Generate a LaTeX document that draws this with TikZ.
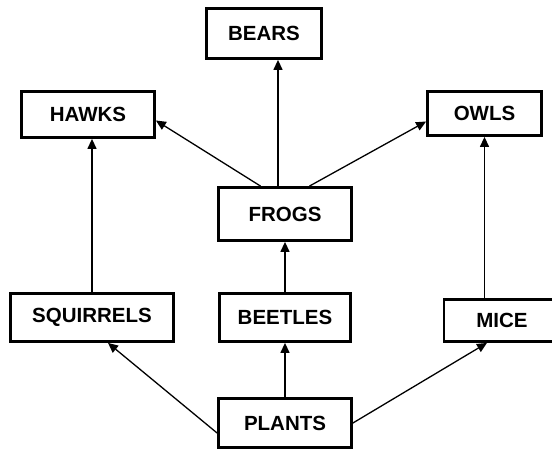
\documentclass[tikz,border=0pt]{standalone}
\usepackage{fontspec}
\setmainfont{Liberation Sans}
\usepackage{tikz}
\usetikzlibrary{arrows.meta,calc}

\begin{document}
\begin{tikzpicture}[
  x=1pt,
  y=-1pt,
  font=\fontsize{20.5}{24}\selectfont\bfseries,
  >={Triangle[length=10pt,width=9pt]},
  eats/.style={->, line width=1.3pt, draw=black},
  animal/.style={draw=black, line width=2.8pt, fill=white, align=center,
    inner sep=0pt}
]
\useasboundingbox (0,0) rectangle (552,450);

\node[animal, minimum width=115, minimum height=50] (bears) at (264,33.5) {BEARS};
\node[animal, minimum width=133, minimum height=46] (hawks) at (88,114.5) {HAWKS};
\node[animal, minimum width=114, minimum height=44] (owls) at (484.5,113.5) {OWLS};
\node[animal, minimum width=133, minimum height=53] (frogs) at (285,214) {FROGS};
\node[animal, minimum width=163, minimum height=48] (squirrels) at (92,317.5) {SQUIRRELS};
\node[animal, minimum width=131, minimum height=48] (beetles) at (285,317.5) {BEETLES};
\node[animal, minimum width=116, minimum height=42] (mice) at (502,320.5) {MICE};
\node[animal, minimum width=133, minimum height=49] (plants) at (285,423) {PLANTS};

\draw[eats] (plants.north) -- (beetles.south);
\draw[eats] (beetles.north) -- (frogs.south);
\draw[eats] ($(plants.west)+(0,10)$) -- ($(squirrels.south)+(16,0)$);
\draw[eats] (plants.east) -- ($(mice.south)+(-15,0)$);
\draw[eats] (squirrels.north) -- (squirrels.north |- hawks.south);
\draw[eats] (owls.south |- mice.north) -- (owls.south);
\draw[eats] ($(frogs.north)+(-7,0)$) -- ($(frogs.north |- bears.south)+(-7,0)$);
\draw[eats] ($(frogs.north west)!0.32!(frogs.north east)$) -- ($(hawks.east)+(0,6)$);
\draw[eats] ($(frogs.north west)!0.68!(frogs.north east)$) -- ($(owls.west)+(0,8)$);

\end{tikzpicture}
\end{document}
